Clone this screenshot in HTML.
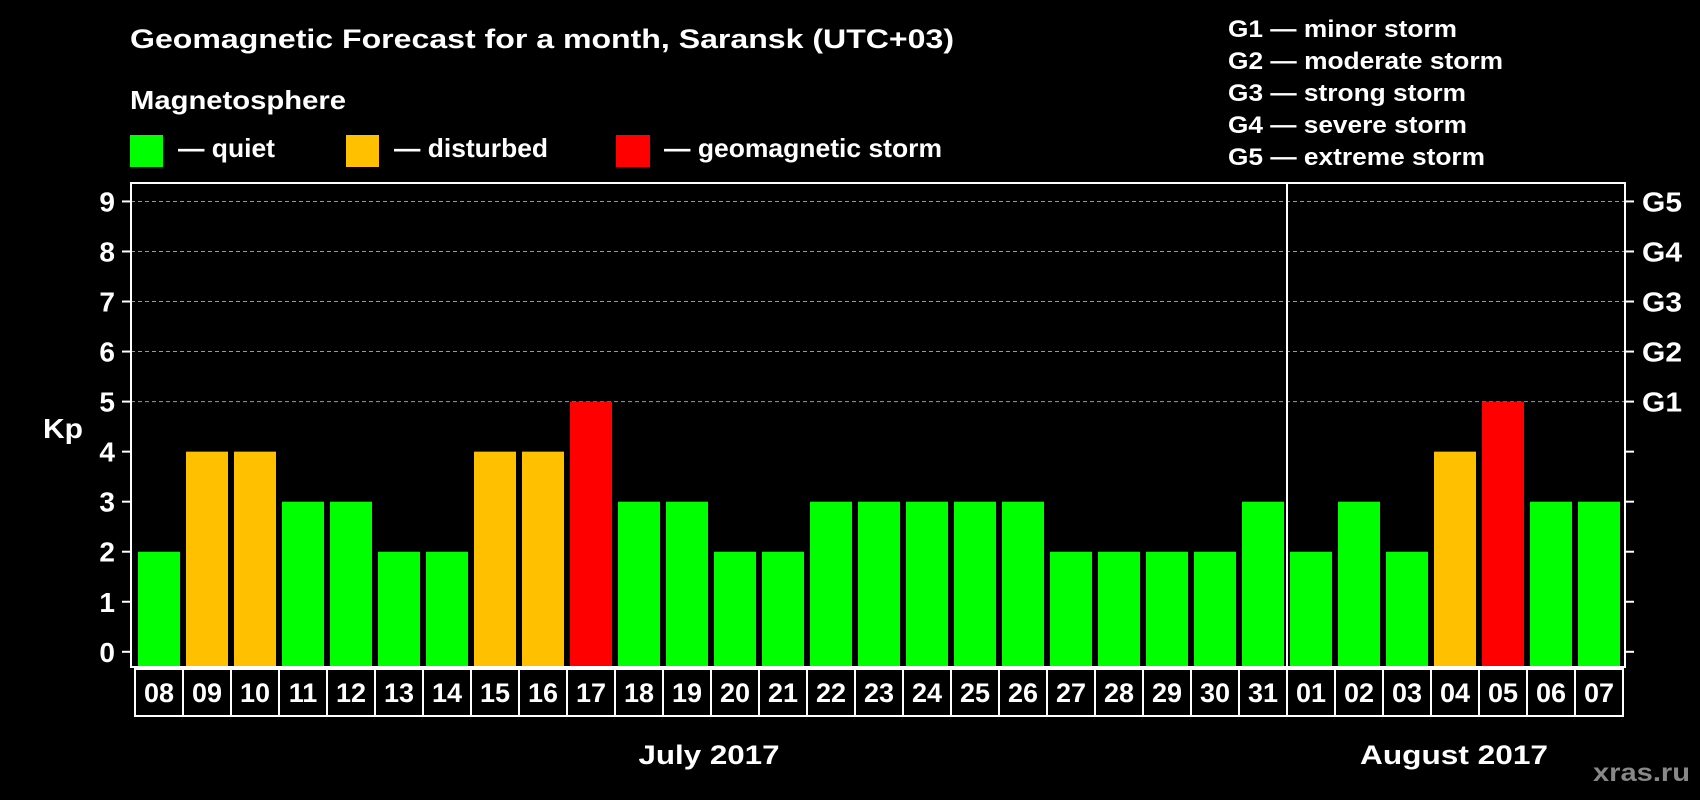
<!DOCTYPE html>
<html><head><meta charset="utf-8"><style>
html,body{margin:0;padding:0;background:#000;}
svg{display:block;font-family:"Liberation Sans",sans-serif;font-weight:bold;}
</style></head><body>
<svg id="chart" width="1700" height="800" viewBox="0 0 1700 800">
<rect x="0" y="0" width="1700" height="800" fill="#000"/>
<text x="130" y="48" font-size="27" fill="#fff" textLength="824" lengthAdjust="spacingAndGlyphs">Geomagnetic Forecast for a month, Saransk (UTC+03)</text>
<text x="130" y="109" font-size="26" fill="#fff" textLength="216" lengthAdjust="spacingAndGlyphs">Magnetosphere</text>
<g><rect x="130" y="135" width="33" height="32" fill="#00ff00"/><text x="178" y="157" font-size="26" fill="#fff" textLength="97" lengthAdjust="spacingAndGlyphs">— quiet</text></g>
<g><rect x="346" y="135" width="33" height="32" fill="#ffc000"/><text x="394" y="157" font-size="26" fill="#fff" textLength="154" lengthAdjust="spacingAndGlyphs">— disturbed</text></g>
<g><rect x="616" y="135" width="34" height="32" fill="#ff0000"/><text x="664" y="157" font-size="26" fill="#fff" textLength="278" lengthAdjust="spacingAndGlyphs">— geomagnetic storm</text></g>
<g font-size="24" fill="#fff">
<text x="1228" y="37" textLength="229" lengthAdjust="spacingAndGlyphs">G1 — minor storm</text>
<text x="1228" y="69" textLength="275" lengthAdjust="spacingAndGlyphs">G2 — moderate storm</text>
<text x="1228" y="101" textLength="238" lengthAdjust="spacingAndGlyphs">G3 — strong storm</text>
<text x="1228" y="133" textLength="239" lengthAdjust="spacingAndGlyphs">G4 — severe storm</text>
<text x="1228" y="165" textLength="257" lengthAdjust="spacingAndGlyphs">G5 — extreme storm</text>
</g>
<g id="plot"></g>
<text x="43" y="438" font-size="28" fill="#fff" textLength="40" lengthAdjust="spacingAndGlyphs">Kp</text>
<text x="709" y="764" font-size="27" fill="#fff" text-anchor="middle" textLength="141" lengthAdjust="spacingAndGlyphs">July 2017</text>
<text x="1454" y="764" font-size="27" fill="#fff" text-anchor="middle" textLength="188" lengthAdjust="spacingAndGlyphs">August 2017</text>
<text x="1690" y="781" font-size="25" fill="#888" text-anchor="end" textLength="97" lengthAdjust="spacingAndGlyphs">xras.ru</text>
</svg>
<script>
const days = ["08","09","10","11","12","13","14","15","16","17","18","19","20","21","22","23","24","25","26","27","28","29","30","31","01","02","03","04","05","06","07"];
const kpValues = [2,4,4,3,3,2,2,4,4,5,3,3,2,2,3,3,3,3,3,2,2,2,2,3,2,3,2,4,5,3,3];
const yTicks = [0,1,2,3,4,5,6,7,8,9];
const gLabels = ["G1","G2","G3","G4","G5"];
const gLevels = [5,6,7,8,9];
const monthBreakIndex = 24;

const NS = "http://www.w3.org/2000/svg";
const plot = document.getElementById("plot");
const L = 131, R = 1625, T = 183, B = 667;
const y = v => 651.8 - v * 50.04;
const slot = 48, x0 = 135;
const xc = i => x0 + slot * (i + 0.5);
function mk(tag, attrs){const e=document.createElementNS(NS,tag);for(const k in attrs)e.setAttribute(k,attrs[k]);plot.appendChild(e);return e;}
function color(v){return v>=5?"#ff0000":(v>=4?"#ffc000":"#00ff00");}

yTicks.forEach(t=>{
  if(t>=5){
    const g=mk("line",{x1:L,x2:R,y1:y(t),y2:y(t),stroke:"#999","stroke-width":1,"stroke-dasharray":"4,3"});
    
    
  }
  const tl=mk("line",{x1:L-9,x2:L,y1:y(t),y2:y(t),stroke:"#fff","stroke-width":2});
  
  
  const tr=mk("line",{x1:R,x2:R+9,y1:y(t),y2:y(t),stroke:"#fff","stroke-width":2});
  
  
  const lb=mk("text",{x:115,y:y(t)+10,"font-size":28,fill:"#fff","text-anchor":"end"});
  lb.textContent=t;
  
  
});
gLabels.forEach((g,i)=>{
  const lb=mk("text",{x:1642,y:y(gLevels[i])+10,"font-size":28,fill:"#fff",textLength:40,lengthAdjust:"spacingAndGlyphs"});
  lb.textContent=g;
  
  
});
kpValues.forEach((v,i)=>{
  const r=mk("rect",{x:xc(i)-21,y:y(v),width:42,height:B-1-y(v),fill:color(v)});
  
  
  const bx=mk("rect",{x:x0+slot*i,y:669,width:slot,height:47,fill:"none",stroke:"#fff","stroke-width":2});
  
  
  const t=mk("text",{x:xc(i),y:702,"font-size":27,fill:"#fff","text-anchor":"middle"});
  t.textContent=days[i];
  
  
});
const fr=mk("rect",{x:L,y:T,width:R-L,height:B-T,fill:"none",stroke:"#fff","stroke-width":2});


const dv=mk("line",{x1:x0+slot*monthBreakIndex,x2:x0+slot*monthBreakIndex,y1:T,y2:B,stroke:"#fff","stroke-width":2});


</script>
</body></html>
